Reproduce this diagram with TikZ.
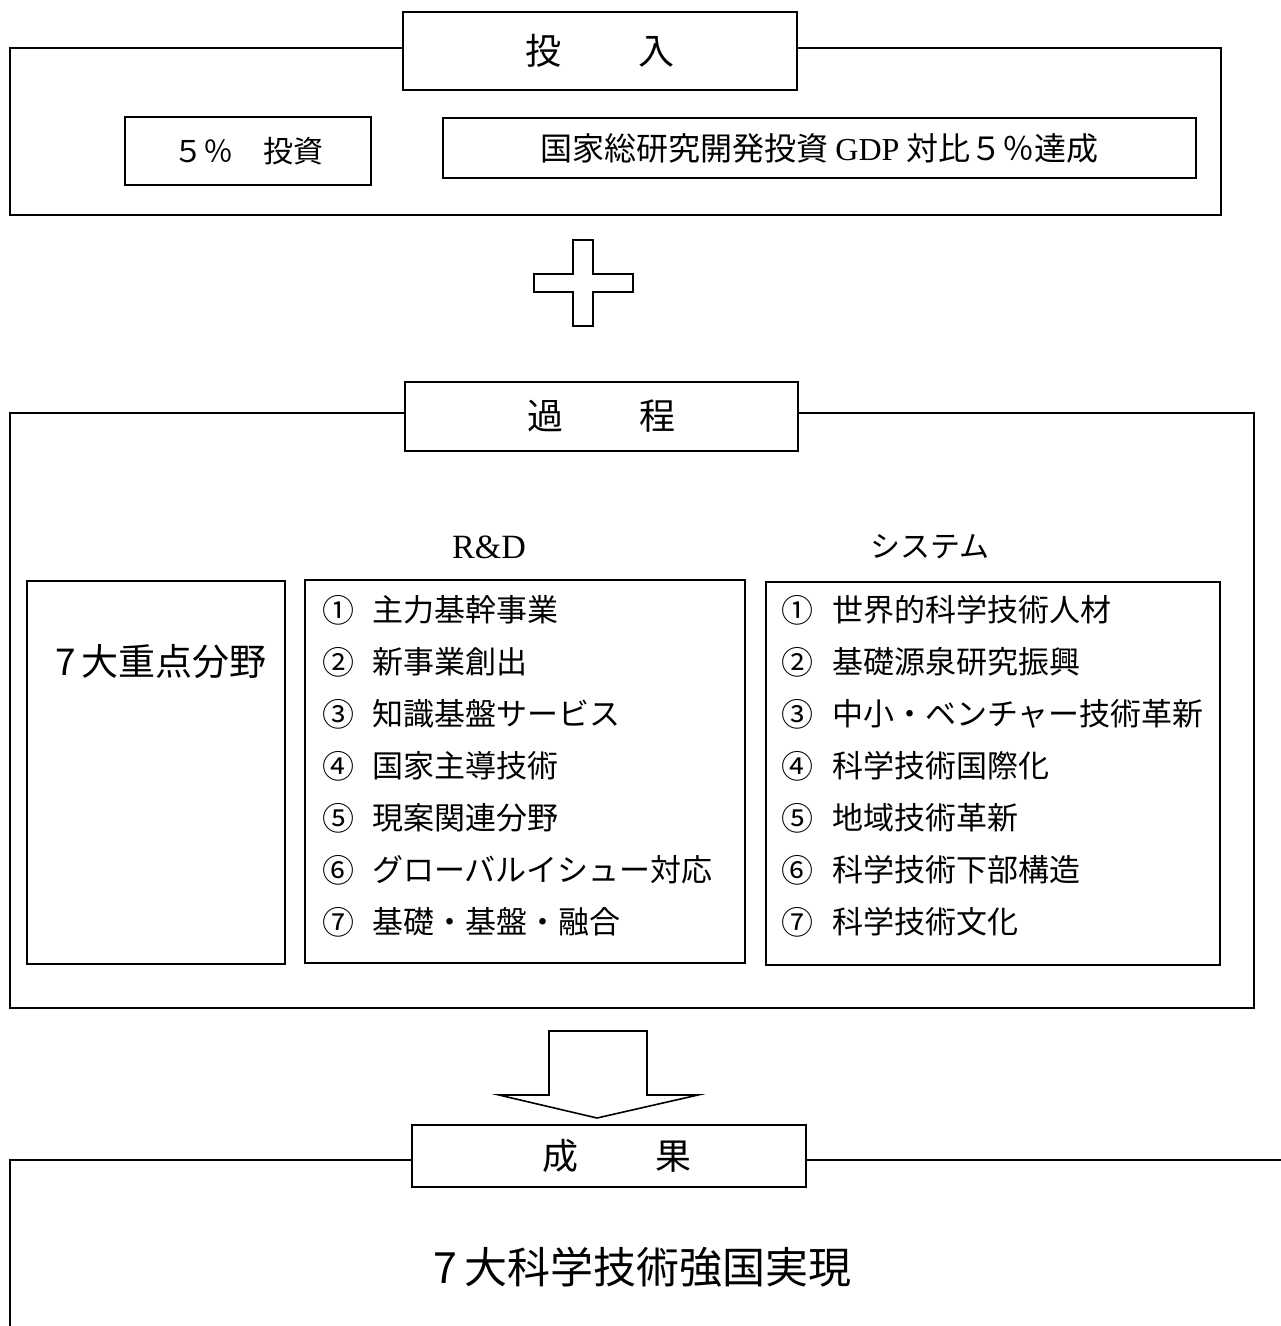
\documentclass[tikz,border=0pt]{standalone}
\usepackage{fontspec}
\newfontfamily\jp{Noto Sans CJK JP}
\newfontfamily\lat{Liberation Serif}
\begin{document}
\begin{tikzpicture}[x=1pt,y=-1pt,
  box/.style={draw, line width=1.8pt, inner sep=0pt},
  titlebox/.style={box, fill=white},
  jpt/.style={font=\jp\fontsize{36}{40}\selectfont},
  jpm/.style={font=\jp\fontsize{30}{36}\selectfont},
  item/.style={font=\jp\fontsize{31}{36}\selectfont, inner sep=0pt, anchor=west},
  num/.style={font=\jp\fontsize{32}{36}\selectfont, inner sep=0pt}]
\useasboundingbox (0,0) rectangle (1281,1326);
\fill[white] (0,0) rectangle (1281,1326);

% ---- input ----
\node[box, minimum width=1211pt, minimum height=167pt] (inbox) at (615.5,131.5) {};
\node[titlebox, minimum width=394pt, minimum height=78pt, jpt] (intitle) at (600,51) {投\hspace{77pt}入};
\node[box, minimum width=246pt, minimum height=68pt, jpm] (pct) at (248,151) {５％　投資};
\node[box, minimum width=753pt, minimum height=60pt, font=\jp\fontsize{32}{36}\selectfont] (gdp) at (819.5,148) {国家総研究開発投資 {\lat\fontsize{32}{36}\selectfont GDP} 対比５％達成};

% ---- plus ----
\draw[line width=1.8pt] (573,240) -- (593,240) -- (593,274) -- (633,274) -- (633,292) -- (593,292) -- (593,326) -- (573,326) -- (573,292) -- (534,292) -- (534,274) -- (573,274) -- cycle;

% ---- process ----
\node[box, minimum width=1244pt, minimum height=595pt] (procbox) at (632,710.5) {};
\node[titlebox, minimum width=393pt, minimum height=69pt, jpt] (proctitle) at (601.5,416.5) {過\hspace{77pt}程};
\node[font=\lat\fontsize{34}{38}\selectfont] (rdlabel) at (489,547) {R\&D};
\node[jpm] (syslabel) at (930,547) {システム};
\node[box, minimum width=258pt, minimum height=383pt] (fieldbox) at (156,772.5) {};
\node[font=\jp\fontsize{37}{40}\selectfont] (fieldtext) at (161,662) {7\,大重点分野};
\node[box, minimum width=440pt, minimum height=383pt] (rdbox) at (525,771.5) {};
\node[box, minimum width=454pt, minimum height=383pt] (sysbox) at (993,773.5) {};

\foreach \k/\n/\t in {0/①/主力基幹事業, 1/②/新事業創出, 2/③/知識基盤サービス, 3/④/国家主導技術, 4/⑤/現案関連分野, 5/⑥/グローバルイシュー対応, 6/⑦/基礎・基盤・融合}{
  \node[num] (rdn\k) at (338,610+52*\k) {\n};
  \node[item] (rdt\k) at (372,610+52*\k) {\t};
}
\foreach \k/\n/\t in {0/①/世界的科学技術人材, 1/②/基礎源泉研究振興, 2/③/中小・ベンチャー技術革新, 3/④/科学技術国際化, 4/⑤/地域技術革新, 5/⑥/科学技術下部構造, 6/⑦/科学技術文化}{
  \node[num] (sysn\k) at (797,610+52*\k) {\n};
  \node[item] (syst\k) at (832,610+52*\k) {\t};
}

% ---- arrow ----
\draw[line width=1.6pt, line join=miter] (549,1031) -- (647,1031) -- (647,1095) -- (698,1095) -- (597,1118) -- (499,1095) -- (549,1095) -- cycle;

% ---- result ----
\coordinate (resR) at (1281,1160);
\coordinate (resL) at (10,1160);
\coordinate (resB) at (10,1330);
\draw[line width=1.8pt] (resR) -- (resL) -- (resB);
\node[titlebox, minimum width=394pt, minimum height=62pt, jpt] (restitle) at (609,1156) {\hspace{16pt}成\hspace{77pt}果};
\node[font=\jp\fontsize{43}{48}\selectfont] (restext) at (643,1267) {7\,大科学技術強国実現};
\end{tikzpicture}
\end{document}
